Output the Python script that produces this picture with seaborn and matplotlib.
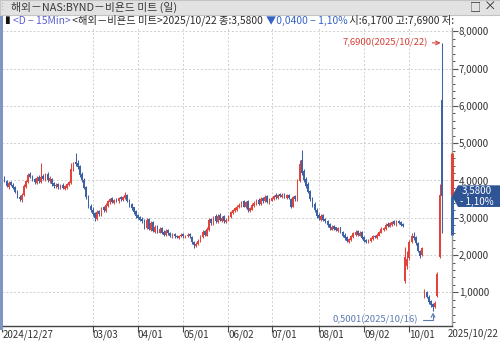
import numpy as np
import pandas as pd
import matplotlib
matplotlib.use("Agg")
import matplotlib.pyplot as plt
import seaborn as sns
from matplotlib.patches import Rectangle, Polygon
from matplotlib.ticker import MultipleLocator
from matplotlib.transforms import blended_transform_factory, ScaledTranslation

# ---------------- data ----------------
holidays = ["2025-01-01", "2025-01-09", "2025-01-20", "2025-02-17", "2025-04-18",
            "2025-05-26", "2025-06-19", "2025-07-04", "2025-09-01"]
dates = pd.bdate_range("2024-12-27", "2025-10-22", freq="C", holidays=holidays)

opens = [
    3.92, 4.08, 3.98, 3.82, 3.95, 3.88, 3.82, 3.70, 3.56, 3.48,
    3.60, 3.82, 3.95, 4.18, 4.12, 4.05, 3.94, 4.10, 3.96, 4.12,
    4.02, 4.18, 3.98, 4.05, 3.92, 3.84, 3.90, 3.80, 3.88, 3.78,
    3.80, 3.88, 3.92, 4.32, 4.50, 4.48, 4.38, 4.18, 4.02, 3.82,
    3.55, 3.32, 3.22, 3.12, 2.98, 3.18, 3.08, 3.28, 3.18, 3.32,
    3.42, 3.52, 3.40, 3.50, 3.44, 3.55, 3.48, 3.52, 3.62, 3.48,
    3.38, 3.28, 3.18, 3.08, 3.02, 2.98, 2.92, 2.72, 2.98, 2.68,
    2.88, 2.62, 2.78, 2.60, 2.72, 2.62, 2.55, 2.68, 2.60, 2.50,
    2.56, 2.52, 2.46, 2.50, 2.56, 2.48, 2.50, 2.56, 2.48, 2.36,
    2.25, 2.30, 2.36, 2.48, 2.64, 2.52, 2.68, 2.98, 2.82, 3.04,
    2.88, 3.08, 2.92, 3.04, 2.88, 2.92, 3.02, 3.12, 3.18, 3.22,
    3.28, 3.32, 3.44, 3.28, 3.44, 3.18, 3.22, 3.32, 3.38, 3.48,
    3.36, 3.52, 3.44, 3.58, 3.40, 3.46, 3.50, 3.62, 3.52, 3.64,
    3.55, 3.64, 3.52, 3.62, 3.50, 3.30, 3.58, 3.48, 3.98, 4.55,
    4.25, 4.05, 3.90, 3.72, 3.52, 3.38, 3.22, 3.08, 2.95, 3.08,
    2.98, 2.92, 2.84, 2.68, 2.78, 2.74, 2.64, 2.74, 2.62, 2.55,
    2.48, 2.36, 2.40, 2.48, 2.55, 2.64, 2.52, 2.62, 2.48, 2.40,
    2.34, 2.38, 2.42, 2.52, 2.46, 2.52, 2.60, 2.66, 2.70, 2.84,
    2.76, 2.80, 2.90, 2.80, 2.92, 2.88, 2.84,
    1.30, 1.70, 1.92, 2.36, 2.52, 2.48, 2.32, 2.12, 2.00, 0.92,
    1.02, 0.88, 0.76, 0.68, 0.60, 0.90, 1.95, 6.17,
]
highs = [
    4.20, 4.12, 4.02, 3.98, 3.98, 3.92, 3.86, 3.74, 3.62, 3.66,
    3.90, 4.02, 4.20, 4.22, 4.16, 4.08, 4.12, 4.14, 4.47, 4.18,
    4.20, 4.22, 4.12, 4.08, 3.96, 3.92, 3.94, 3.90, 3.92, 3.88,
    3.94, 3.99, 4.47, 4.50, 4.73, 4.55, 4.42, 4.22, 4.06, 3.86,
    3.60, 3.36, 3.28, 3.15, 3.20, 3.22, 3.30, 3.32, 3.40, 3.48,
    3.54, 3.56, 3.50, 3.54, 3.56, 3.58, 3.58, 3.69, 3.65, 3.50,
    3.40, 3.30, 3.20, 3.10, 3.05, 3.02, 2.96, 3.00, 3.00, 2.90,
    2.90, 2.80, 2.80, 2.74, 2.75, 2.66, 2.70, 2.70, 2.62, 2.58,
    2.58, 2.55, 2.55, 2.58, 2.58, 2.55, 2.58, 2.58, 2.50, 2.38,
    2.34, 2.42, 2.54, 2.66, 2.68, 2.74, 3.00, 3.00, 3.06, 3.10,
    3.10, 3.12, 3.05, 3.08, 3.00, 3.08, 3.18, 3.24, 3.30, 3.34,
    3.40, 3.45, 3.47, 3.45, 3.47, 3.28, 3.40, 3.45, 3.50, 3.52,
    3.55, 3.56, 3.60, 3.62, 3.52, 3.56, 3.62, 3.66, 3.64, 3.66,
    3.66, 3.66, 3.64, 3.64, 3.54, 3.58, 3.62, 4.05, 4.55, 4.82,
    4.30, 4.10, 3.95, 3.75, 3.56, 3.42, 3.25, 3.12, 3.10, 3.10,
    3.00, 2.95, 2.86, 2.80, 2.80, 2.76, 2.75, 2.76, 2.64, 2.58,
    2.50, 2.45, 2.54, 2.62, 2.66, 2.66, 2.64, 2.64, 2.50, 2.42,
    2.44, 2.48, 2.54, 2.55, 2.58, 2.65, 2.74, 2.76, 2.85, 2.88,
    2.88, 2.92, 2.94, 2.94, 2.95, 2.90, 2.86,
    2.22, 2.12, 2.40, 2.58, 2.62, 2.52, 2.36, 2.14, 2.22, 1.10,
    1.04, 0.92, 0.80, 0.72, 0.76, 1.55, 3.90, 7.69,
]
lows = [
    3.88, 3.95, 3.82, 3.78, 3.84, 3.76, 3.66, 3.52, 3.46, 3.42,
    3.58, 3.80, 3.92, 4.06, 3.98, 3.90, 3.90, 3.94, 3.92, 4.00,
    3.98, 3.96, 3.94, 3.86, 3.80, 3.80, 3.78, 3.78, 3.78, 3.75,
    3.76, 3.85, 3.90, 4.25, 4.40, 4.30, 4.10, 3.96, 3.76, 3.50,
    3.26, 3.15, 3.05, 2.92, 2.94, 3.05, 3.05, 3.16, 3.15, 3.28,
    3.38, 3.40, 3.38, 3.42, 3.40, 3.46, 3.45, 3.50, 3.42, 3.30,
    3.20, 3.10, 3.00, 2.96, 2.92, 2.86, 2.70, 2.70, 2.66, 2.64,
    2.62, 2.60, 2.58, 2.58, 2.56, 2.52, 2.52, 2.54, 2.48, 2.46,
    2.46, 2.45, 2.44, 2.48, 2.47, 2.46, 2.48, 2.46, 2.30, 2.20,
    2.22, 2.28, 2.34, 2.45, 2.52, 2.50, 2.65, 2.80, 2.80, 2.86,
    2.85, 2.90, 2.88, 2.86, 2.85, 2.90, 3.00, 3.10, 3.15, 3.18,
    3.25, 3.30, 3.28, 3.25, 3.15, 3.15, 3.20, 3.30, 3.34, 3.35,
    3.34, 3.40, 3.42, 3.40, 3.38, 3.44, 3.48, 3.50, 3.50, 3.55,
    3.52, 3.52, 3.50, 3.50, 3.26, 3.28, 3.45, 3.46, 3.95, 4.15,
    3.95, 3.80, 3.66, 3.45, 3.30, 3.15, 3.00, 2.95, 2.92, 2.90,
    2.86, 2.76, 2.68, 2.66, 2.66, 2.64, 2.62, 2.58, 2.48, 2.40,
    2.35, 2.33, 2.38, 2.46, 2.52, 2.52, 2.50, 2.42, 2.35, 2.32,
    2.32, 2.36, 2.40, 2.45, 2.44, 2.50, 2.58, 2.64, 2.68, 2.75,
    2.74, 2.78, 2.80, 2.78, 2.82, 2.78, 2.76,
    1.25, 1.62, 1.88, 2.32, 2.40, 2.28, 2.08, 1.92, 1.98, 0.86,
    0.85, 0.70, 0.62, 0.5001, 0.58, 0.88, 1.92, 2.60,
]
closes = [
    4.05, 3.98, 3.85, 3.92, 3.88, 3.80, 3.70, 3.55, 3.50, 3.62,
    3.85, 3.98, 4.15, 4.10, 4.02, 3.95, 4.08, 3.98, 4.10, 4.05,
    4.15, 4.00, 4.08, 3.90, 3.85, 3.88, 3.82, 3.86, 3.80, 3.84,
    3.90, 3.95, 4.30, 4.40, 4.45, 4.35, 4.15, 4.00, 3.80, 3.55,
    3.30, 3.20, 3.10, 3.00, 3.15, 3.10, 3.25, 3.20, 3.35, 3.45,
    3.50, 3.42, 3.48, 3.45, 3.52, 3.50, 3.55, 3.60, 3.45, 3.35,
    3.25, 3.15, 3.05, 3.00, 2.95, 2.90, 2.75, 2.95, 2.70, 2.85,
    2.65, 2.75, 2.62, 2.70, 2.60, 2.55, 2.65, 2.58, 2.52, 2.55,
    2.50, 2.48, 2.52, 2.55, 2.50, 2.52, 2.55, 2.50, 2.35, 2.28,
    2.30, 2.38, 2.50, 2.62, 2.55, 2.70, 2.95, 2.85, 3.00, 2.90,
    3.05, 2.95, 3.00, 2.90, 2.95, 3.05, 3.15, 3.20, 3.25, 3.30,
    3.35, 3.40, 3.30, 3.42, 3.20, 3.25, 3.35, 3.40, 3.45, 3.38,
    3.50, 3.45, 3.55, 3.42, 3.48, 3.52, 3.58, 3.55, 3.60, 3.58,
    3.62, 3.55, 3.60, 3.52, 3.30, 3.55, 3.50, 4.00, 4.45, 4.20,
    4.00, 3.85, 3.70, 3.50, 3.35, 3.20, 3.05, 3.00, 3.05, 2.95,
    2.90, 2.80, 2.72, 2.75, 2.70, 2.68, 2.72, 2.60, 2.52, 2.45,
    2.38, 2.42, 2.50, 2.58, 2.62, 2.55, 2.60, 2.45, 2.38, 2.35,
    2.40, 2.45, 2.50, 2.48, 2.55, 2.62, 2.70, 2.72, 2.80, 2.78,
    2.85, 2.88, 2.82, 2.90, 2.85, 2.80, 2.78,
    1.95, 1.90, 2.35, 2.52, 2.46, 2.32, 2.12, 1.98, 2.18, 1.05,
    0.88, 0.75, 0.65, 0.60, 0.72, 1.50, 3.62, 3.58,
]

tick_dates = ["2024-12-27", "2025-03-03", "2025-04-01", "2025-05-01", "2025-06-02",
              "2025-07-01", "2025-08-01", "2025-09-02", "2025-10-01"]
tick_labels = ["2024/12/27", "03/03", "04/01", "05/01", "06/02",
               "07/01", "08/01", "09/02", "10/01"]
y_ticks = [1, 2, 3, 4, 5, 6, 7, 8]

last_close = 3.58
change_pct = "- 1,10%"
day_band_top = 4.73
day_band_bottom = 2.55
max_label = "7,6900(2025/10/22)"
min_label = "0,5001(2025/10/16)"

df = pd.DataFrame({"date": dates, "open": opens, "high": highs,
                   "low": lows, "close": closes})
df["idx"] = np.arange(len(df))

# ---------------- style ----------------
sns.set_style("white")
plt.rcParams["font.family"] = ["Noto Sans CJK KR", "DejaVu Sans"]

RED = "#e0443c"
BLUE = "#3d62a6"
W, H = 500, 341


def fx(px):
    return px / W


def fy(py):
    return 1 - py / H


fig = plt.figure(figsize=(5, 3.41), dpi=100)
fig.patch.set_facecolor("white")

ax = fig.add_axes([fx(2), fy(326), fx(452) - fx(2), fy(28) - fy(326)])
ax.set_facecolor("white")

up = df["close"] >= df["open"]
colors = np.where(up, RED, BLUE)
ax.vlines(df["idx"], df["low"], df["high"], colors=colors, lw=0.75, zorder=3)
body_lo = np.minimum(df["open"], df["close"])
body_h = np.maximum(np.abs(df["close"] - df["open"]), 0.025)
ax.bar(df["idx"], body_h, bottom=body_lo, width=0.8, color=colors, lw=0, zorder=3)

ax.set_xlim(-0.14, 208.8)
ax.set_ylim(0.097, 8.09)

# ticks
tick_pos = [df.index[df["date"] == pd.Timestamp(d)][0] for d in tick_dates]
ax.set_xticks(tick_pos)
ax.set_xticklabels(tick_labels)
shift = ScaledTranslation(1.5 / 100, 0, fig.dpi_scale_trans)
for lbl in ax.get_xticklabels():
    lbl.set_ha("left")
    lbl.set_transform(lbl.get_transform() + shift)
ax.tick_params(axis="x", length=4, width=0.8, color="#444", pad=-1.5,
               labelsize=7, labelcolor="#333", direction="out", bottom=True)

ax.yaxis.tick_right()
ax.set_yticks(y_ticks)
ax.set_yticklabels([f"{v:.4f}".replace(".", ",") for v in y_ticks])
ax.yaxis.set_minor_locator(MultipleLocator(0.2))
ax.tick_params(axis="y", which="major", length=4, width=0.8, color="#555",
               pad=1, labelsize=7, labelcolor="#333", direction="out", right=True)
ax.tick_params(axis="y", which="minor", length=2, width=0.7, color="#555",
               direction="out", right=True)

ax.grid(True, which="major", color="#cfcfcf", lw=0.7, ls=(0, (2, 2)))
ax.set_axisbelow(True)

for s in ["left", "top"]:
    ax.spines[s].set_visible(False)
ax.spines["right"].set_color("#9a9a9a")
ax.spines["right"].set_linewidth(1.0)
ax.spines["bottom"].set_color("#444")
ax.spines["bottom"].set_linewidth(1.0)

# day range bar on the price axis
tr_ax = blended_transform_factory(ax.transAxes, ax.transData)
ax.plot([1, 1], [day_band_top, last_close], color=RED, lw=2.2, transform=tr_ax,
        clip_on=False, solid_capstyle="butt", zorder=5)
ax.plot([1, 1], [last_close, day_band_bottom], color=BLUE, lw=2.2, transform=tr_ax,
        clip_on=False, solid_capstyle="butt", zorder=5)

# current price box
tr_fig = blended_transform_factory(fig.transFigure, ax.transData)
hh = 0.29
box = Polygon([[fx(452), last_close], [fx(458), last_close + hh], [1.0, last_close + hh],
               [1.0, last_close - hh], [fx(458), last_close - hh]],
              closed=True, transform=tr_fig, fc="#2f5496", ec="none", clip_on=False, zorder=6)
ax.add_patch(box)
ax.text(fx(492), last_close + 0.14, f"{last_close:.4f}".replace(".", ","), transform=tr_fig,
        ha="right", va="center", color="white", fontsize=7, clip_on=False, zorder=7)
ax.text(fx(494), last_close - 0.15, change_pct, transform=tr_fig,
        ha="right", va="center", color="white", fontsize=7, clip_on=False, zorder=7)

# max / min annotations
i_max = int(df["high"].idxmax())
i_min = int(df["low"].idxmin())
ax.annotate(max_label, xy=(i_max - 0.5, df["high"][i_max]), xytext=(-13, 0),
            textcoords="offset pixels", ha="right", va="center", color="#d43f38",
            fontsize=6.8, zorder=8,
            arrowprops=dict(arrowstyle="->", color="#d43f38", lw=0.8,
                            relpos=(1, 0.5), shrinkA=1, shrinkB=0))
ax.annotate(min_label, xy=(i_min, df["low"][i_min]), xytext=(-15, -9),
            textcoords="offset pixels", ha="right", va="center", color="#5a7ab2",
            fontsize=6.8, zorder=8,
            arrowprops=dict(arrowstyle="->", color="#5a7ab2", lw=0.8,
                            relpos=(1, 0.5), shrinkA=1, shrinkB=1,
                            connectionstyle="angle,angleA=0,angleB=90,rad=0"))

# right-bottom date label
fig.text(fx(448), fy(333.5), "2025/10/22", ha="left", va="center", fontsize=7, color="#333")

# title bar
fig.add_artist(Rectangle((0, fy(15)), 1, fy(0) - fy(15), transform=fig.transFigure,
                         fc="#e2e2e2", ec="#c4c4c4", lw=0.8))
fig.text(fx(2.5), fy(7.5), "⋮", ha="center", va="center", fontsize=5.5, color="#9a9a9a")
fig.text(fx(11), fy(7.5), "해외－NAS:BYND－비욘드 미트 (일)", ha="left", va="center",
         fontsize=7.8, color="#3a3a3a")
fig.text(fx(475), fy(7.5), "□", ha="center", va="center", fontsize=8, color="#333")
fig.text(fx(490), fy(7.5), "×", ha="center", va="center", fontsize=9, color="#333")

# left selection strip
fig.add_artist(Rectangle((0, fy(330)), fx(2.5), fy(16) - fy(330), transform=fig.transFigure,
                         fc="#8096c2", ec="none"))

# info line
segments = [("▮", "#111111"), ("<D − 15Min>", "#5b5fd0"),
            (" <해외－비욘드 미트>2025/10/22 종:3,5800 ", "#2a2a2a"),
            ("▼0,0400 − 1,10%", "#3563c4"),
            (" 시:6,1700 고:7,6900 저:", "#2a2a2a")]
fig.canvas.draw()
renderer = fig.canvas.get_renderer()
xpos = 4.0
for txt, col in segments:
    t = fig.text(fx(xpos), fy(20.5), txt, ha="left", va="center", fontsize=7.4, color=col)
    bb = t.get_window_extent(renderer=renderer)
    xpos += bb.width + (3 if txt == "▮" else 0)

fig.savefig("out.png", dpi=100, facecolor="white")
